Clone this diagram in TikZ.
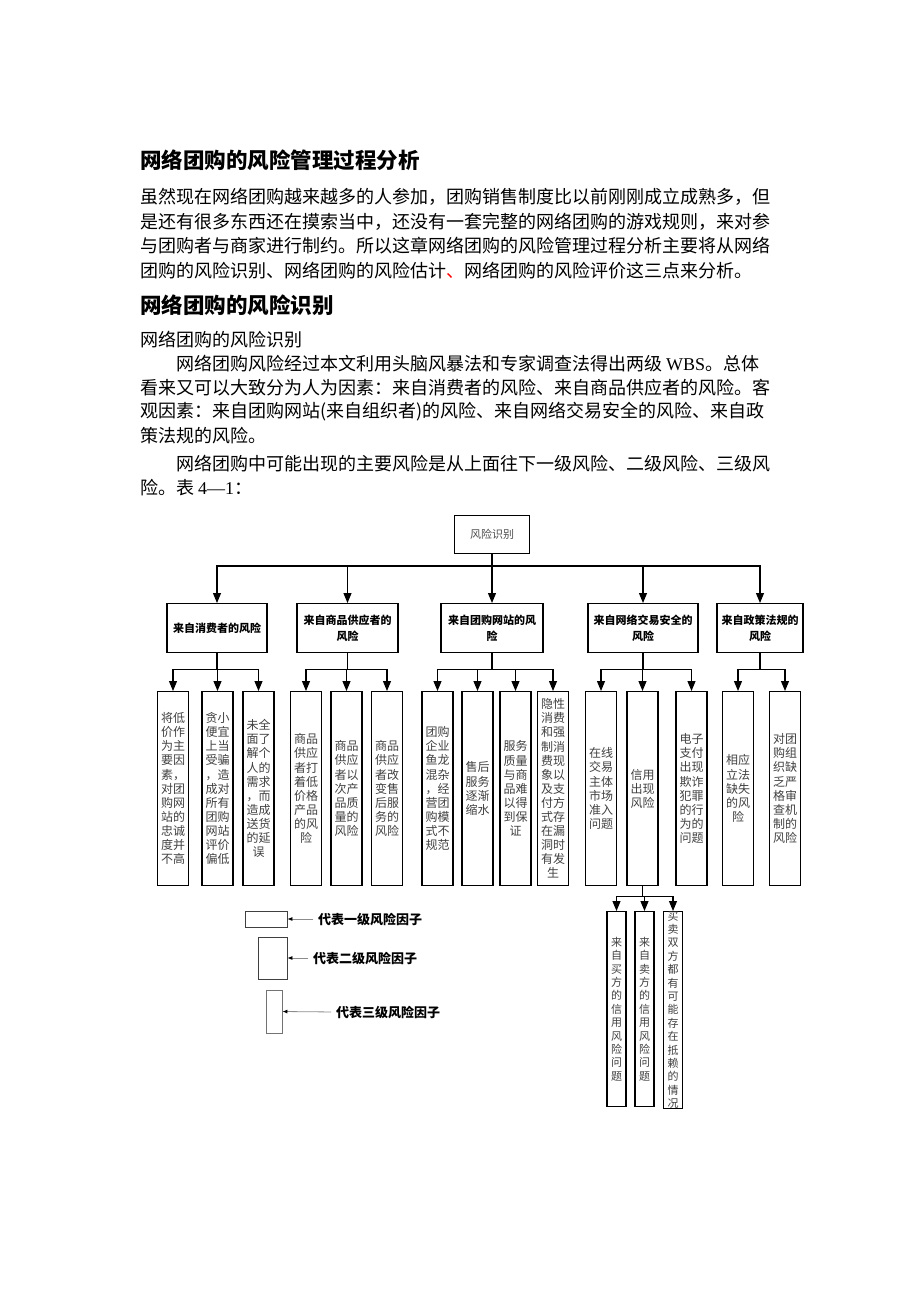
\documentclass[tikz,border=0pt]{standalone}
\usepackage{fontspec}
\setmainfont{Noto Sans CJK SC}
\newfontfamily\latinfont{Liberation Serif}
\usepackage{tikz}
\usetikzlibrary{arrows.meta}
\XeTeXlinebreaklocale "zh"
\XeTeXlinebreakskip=0pt plus 2pt

\begin{document}
\begin{tikzpicture}[x=1pt,y=-1pt,
  heading/.style={anchor=west,inner sep=0,font=\bfseries\fontsize{21.5}{26}\selectfont},
  bodyline/.style={anchor=west,inner sep=0,font=\fontsize{18}{24}\selectfont},
  rootbox/.style={draw,line width=1pt,minimum width=75,minimum height=38,inner sep=0,text=black!70,font=\fontsize{11}{13}\selectfont},
  firstbox/.style={draw,line width=1.1pt,anchor=north,minimum height=49,inner sep=0,align=center,font=\bfseries\fontsize{11}{16}\selectfont},
  secondbox/.style={draw,line width=1.1pt,anchor=north,minimum width=31,minimum height=194,inner sep=0,align=center,text=black!75,font=\fontsize{12}{14.1}\selectfont},
  thirdbox/.style={draw,line width=1.1pt,anchor=north,minimum width=19,minimum height=195,inner sep=0,align=center,text=black!75,font=\fontsize{11}{13.4}\selectfont},
  link/.style={line width=1.1pt,-{Triangle[length=10pt,width=8pt]}},
  keytext/.style={anchor=west,inner sep=0,font=\bfseries\fontsize{13}{15}\selectfont},
  keyarrow/.style={draw=black!45,line width=0.8pt,-{Latex[black,length=5pt,width=4pt]},shorten <=5pt}]
\useasboundingbox (0,0) rectangle (920,1302);

% text above the chart
\node[heading] (title) at (140,160) {网络团购的风险管理过程分析};
\node[bodyline] (p1a) at (140,197) {\makebox[642pt][s]{虽然现在网络团购越来越多的人参加，团购销售制度比以前刚刚成立成熟多，但}};
\node[bodyline] (p1b) at (140,222) {\makebox[642pt][s]{是还有很多东西还在摸索当中，还没有一套完整的网络团购的游戏规则，来对参}};
\node[bodyline] (p1c) at (140,246) {\makebox[642pt][s]{与团购者与商家进行制约。所以这章网络团购的风险管理过程分析主要将从网络}};
\node[bodyline] (p1d) at (140,271) {\makebox[625pt][s]{团购的风险识别、网络团购的风险估计{\color{red}、}网络团购的风险评价这三点来分析。}};
\node[heading] (subtitle) at (140,305) {网络团购的风险识别};
\node[bodyline] (p2a) at (140,340) {网络团购的风险识别};
\node[bodyline] (p2b) at (176,364) {\makebox[604pt][s]{网络团购风险经过本文利用头脑风暴法和专家调查法得出两级\hspace{4pt}{\latinfont WBS}。总体}};
\node[bodyline] (p2c) at (140,388) {\makebox[640pt][s]{看来又可以大致分为人为因素：来自消费者的风险、来自商品供应者的风险。客}};
\node[bodyline] (p2d) at (140,412) {\makebox[640pt][s]{观因素：来自团购网站(来自组织者)的风险、来自网络交易安全的风险、来自政}};
\node[bodyline] (p2e) at (140,436) {策法规的风险。};
\node[bodyline] (p3a) at (176,464) {\makebox[604pt][s]{网络团购中可能出现的主要风险是从上面往下一级风险、二级风险、三级风}};
\node[bodyline] (p3b) at (140,488) {险。表\hspace{4pt}{\latinfont 4—1}：};

% root
\node[rootbox] (root) at (492,534) {风险识别};
\coordinate (bus) at (492,566);

% level 1
\node[firstbox,minimum width=100] (cons) at (217,603) {来自消费者的风险};
\node[firstbox,minimum width=101] (supp) at (347.5,603) {来自商品供应者的\\风险};
\node[firstbox,minimum width=102] (site) at (492,603) {来自团购网站的风\\险};
\node[firstbox,minimum width=110] (trade) at (643,603) {来自网络交易安全的\\风险};
\node[firstbox,minimum width=86] (law) at (760,603) {来自政策法规的\\风险};
\draw[link] (root.south) -- (bus) -| (cons.north);
\draw[link] (root.south) -- (bus) -| (supp.north);
\draw[link] (root.south) -- (bus) -| (site.north);
\draw[link] (root.south) -- (bus) -| (trade.north);
\draw[link] (root.south) -- (bus) -| (law.north);

% level 2, consumers
\node[secondbox] (cons1) at (173,691) {将低\\价作\\为主\\要因\\素，\\对团\\购网\\站的\\忠诚\\度并\\不高};
\node[secondbox] (cons2) at (217.5,691) {贪小\\便宜\\上当\\受骗\\，造\\成对\\所有\\团购\\网站\\评价\\偏低};
\node[secondbox] (cons3) at (258.5,691) {未全\\面了\\解个\\人的\\需求\\，而\\造成\\送货\\的延\\误};
\draw[link] (cons.south) -- ++(0,16) -| (cons1.north);
\draw[link] (cons.south) -- ++(0,16) -| (cons2.north);
\draw[link] (cons.south) -- ++(0,16) -| (cons3.north);

% level 2, suppliers
\node[secondbox] (supp1) at (306,691) {商品\\供应\\者打\\着低\\价格\\产品\\的风\\险};
\node[secondbox] (supp2) at (346.5,691) {商品\\供应\\者以\\次产\\品质\\量的\\风险};
\node[secondbox] (supp3) at (387,691) {商品\\供应\\者改\\变售\\后服\\务的\\风险};
\draw[link] (supp.south) -- ++(0,16) -| (supp1.north);
\draw[link] (supp.south) -- ++(0,16) -| (supp2.north);
\draw[link] (supp.south) -- ++(0,16) -| (supp3.north);

% level 2, websites
\node[secondbox] (site1) at (437.5,691) {团购\\企业\\鱼龙\\混杂\\，经\\营团\\购模\\式不\\规范};
\node[secondbox] (site2) at (477.5,691) {售后\\服务\\逐渐\\缩水};
\node[secondbox] (site3) at (515.5,691) {服务\\质量\\与商\\品难\\以得\\到保\\证};
\node[secondbox] (site4) at (553,691) {隐性\\消费\\和强\\制消\\费现\\象以\\及支\\付方\\式存\\在漏\\洞时\\有发\\生};
\draw[link] (site.south) -- ++(0,16) -| (site1.north);
\draw[link] (site.south) -- ++(0,16) -| (site2.north);
\draw[link] (site.south) -- ++(0,16) -| (site3.north);
\draw[link] (site.south) -- ++(0,16) -| (site4.north);

% level 2, trading
\node[secondbox] (trade1) at (601,691) {在线\\交易\\主体\\市场\\准入\\问题};
\node[secondbox] (trade2) at (642.5,691) {信用\\出现\\风险};
\node[secondbox] (trade3) at (691.5,691) {电子\\支付\\出现\\欺诈\\犯罪\\的行\\为的\\问题};
\draw[link] (trade.south) -- ++(0,16) -| (trade1.north);
\draw[link] (trade.south) -- ++(0,16) -| (trade2.north);
\draw[link] (trade.south) -- ++(0,16) -| (trade3.north);

% level 2, law
\node[secondbox] (law1) at (738,691) {相应\\立法\\缺失\\的风\\险};
\node[secondbox] (law2) at (785,691) {对团\\购组\\织缺\\乏严\\格审\\查机\\制的\\风险};
\draw[link] (law.south) -- ++(0,16) -| (law1.north);
\draw[link] (law.south) -- ++(0,16) -| (law2.north);

% level 3 under trade2
\node[thirdbox] (credit1) at (616.5,911) {来\\自\\买\\方\\的\\信\\用\\风\\险\\问\\题};
\node[thirdbox] (credit2) at (644.5,911) {来\\自\\卖\\方\\的\\信\\用\\风\\险\\问\\题};
\node[thirdbox] (credit3) at (673,911) {买\\卖\\双\\方\\都\\有\\可\\能\\存\\在\\抵\\赖\\的\\情\\况};
\draw[link] (trade2.south) -- ++(0,10) -| (credit1.north);
\draw[link] (trade2.south) -- ++(0,10) -| (credit2.north);
\draw[link] (trade2.south) -- ++(0,10) -| (credit3.north);

% key
\node[draw=black!75,line width=0.8pt,minimum width=42,minimum height=16,inner sep=0] (key1) at (266,919) {};
\node[draw=black!75,line width=0.8pt,minimum width=29,minimum height=42,inner sep=0] (key2) at (272.5,958) {};
\node[draw=black!55,line width=0.8pt,minimum width=16,minimum height=43,inner sep=0] (key3) at (274,1011.5) {};
\node[keytext] (keytext1) at (318,919) {代表一级风险因子};
\node[keytext] (keytext2) at (313,958) {代表二级风险因子};
\node[keytext] (keytext3) at (336,1012) {代表三级风险因子};
\draw[keyarrow] (keytext1.west) -- (key1.east);
\draw[keyarrow] (keytext2.west) -- (key2.east);
\draw[keyarrow] (keytext3.west) -- (key3.east);
\end{tikzpicture}
\end{document}
